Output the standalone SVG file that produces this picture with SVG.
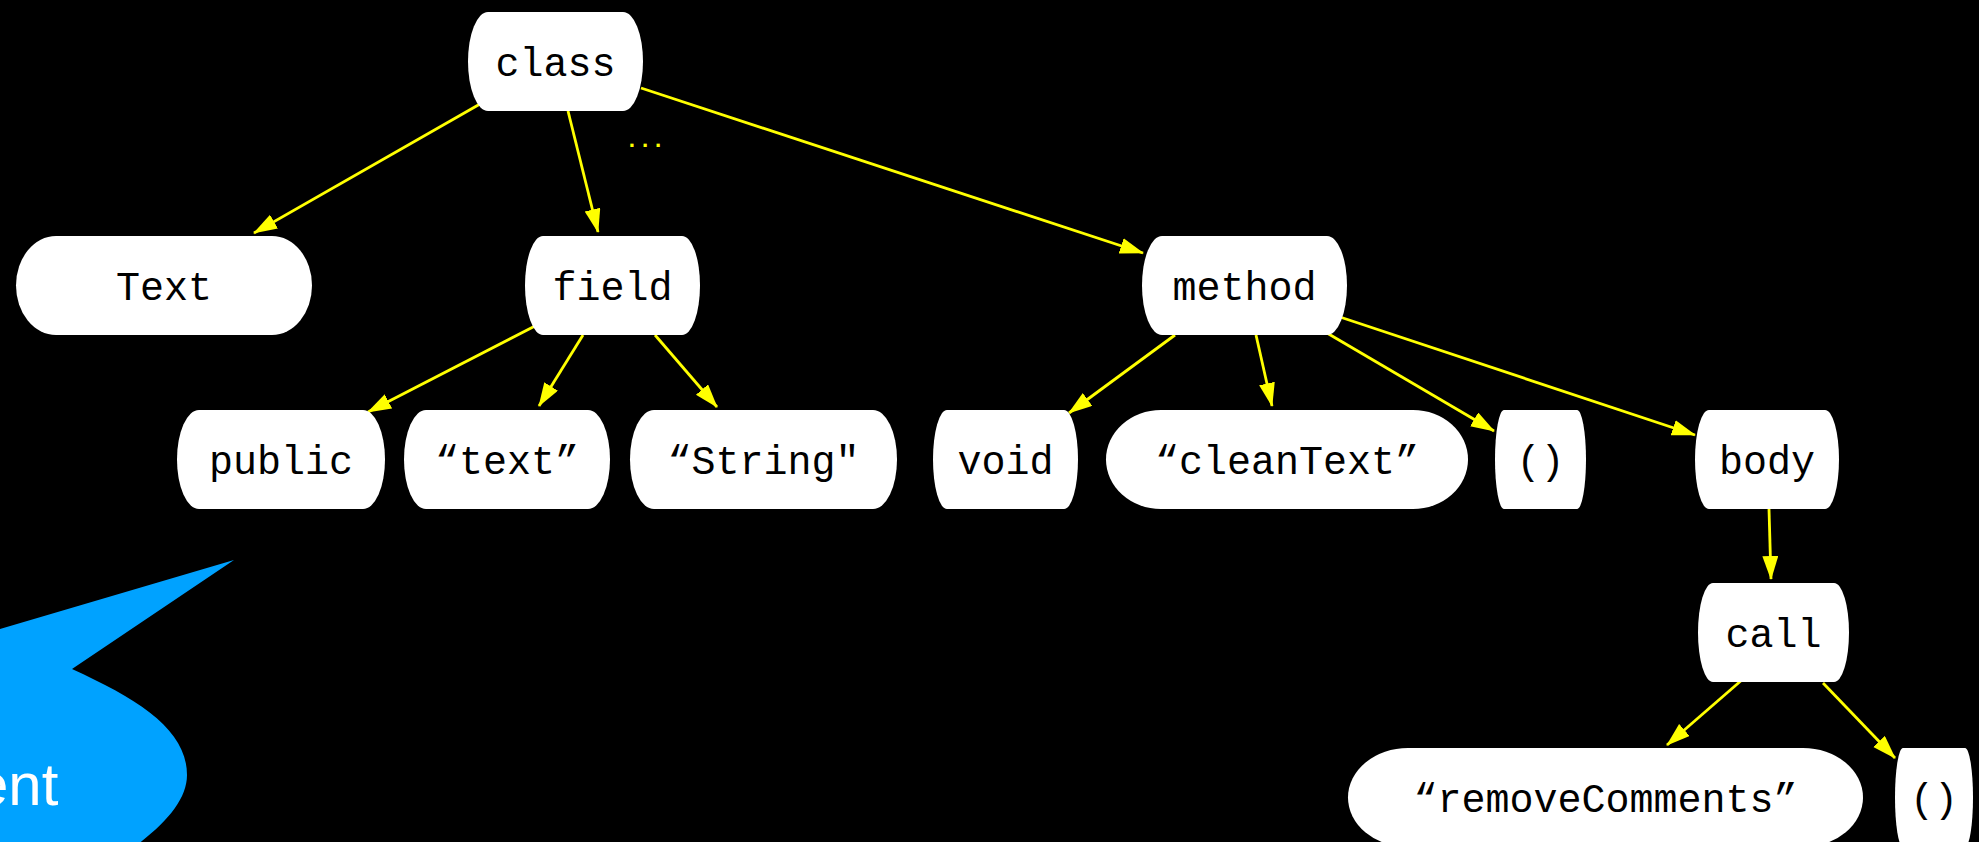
<svg xmlns="http://www.w3.org/2000/svg" width="1979" height="842" viewBox="0 0 1979 842">
<style>
.node rect{fill:#ffffff;}
.node text{font-family:"Liberation Mono","DejaVu Sans Mono",monospace;font-size:40px;fill:#000000;text-anchor:middle;}
.edge{stroke:#ffff00;stroke-width:2.8;fill:none;marker-end:url(#arr);}
</style>
<defs>
<marker id="arr" markerUnits="userSpaceOnUse" markerWidth="26" markerHeight="18" refX="23" refY="8" orient="auto">
<path d="M0,0 L24,8 L0,16 z" fill="#ffff00"/>
</marker>
</defs>
<rect x="0" y="0" width="1979" height="842" fill="#000000"/>

<g id="bubble">
<path d="M-10,632 L234,560 L72,669 C140,700 187,730 187,775 C187,800 165,825 130,850 L-10,850 Z" fill="#00a2ff"/>
<text x="-25" y="805" font-family="Liberation Sans, Arial, sans-serif" font-size="60" fill="#ffffff">ent</text>
</g>

<g id="connectors">
<line class="edge" x1="480" y1="104" x2="254" y2="233"/>
<line class="edge" x1="568" y1="111" x2="598" y2="232"/>
<line class="edge" x1="641" y1="88" x2="1143" y2="253"/>
<line class="edge" x1="535" y1="326" x2="368" y2="412"/>
<line class="edge" x1="583" y1="335" x2="539" y2="406"/>
<line class="edge" x1="655" y1="335" x2="717" y2="407"/>
<line class="edge" x1="1175" y1="335" x2="1069" y2="413"/>
<line class="edge" x1="1256" y1="335" x2="1272" y2="406"/>
<line class="edge" x1="1327" y1="333" x2="1494" y2="431"/>
<line class="edge" x1="1340" y1="317" x2="1695" y2="435"/>
<line class="edge" x1="1769" y1="509" x2="1771" y2="579"/>
<line class="edge" x1="1743" y1="679" x2="1667" y2="745"/>
<line class="edge" x1="1823" y1="683" x2="1895" y2="758"/>
</g>
<text id="ellipsis" x="645" y="147" font-family="Liberation Mono, monospace" font-size="22" font-weight="bold" fill="#ffff00" text-anchor="middle">...</text>

<g id="n-class" class="node"><rect x="468" y="12" width="175" height="99" rx="20" ry="49.5"/><text x="555.5" y="75.5">class</text></g>
<g id="n-Text" class="node"><rect x="16" y="236" width="296" height="99" rx="40" ry="49.5"/><text x="164" y="299.5">Text</text></g>
<g id="n-field" class="node"><rect x="525" y="236" width="175" height="99" rx="18" ry="49.5"/><text x="612.5" y="299.5">field</text></g>
<g id="n-method" class="node"><rect x="1142" y="236" width="205" height="99" rx="20" ry="49.5"/><text x="1244.5" y="299.5">method</text></g>
<g id="n-public" class="node"><rect x="177" y="410" width="208" height="99" rx="22" ry="49.5"/><text x="281" y="473.5">public</text></g>
<g id="n-text" class="node"><rect x="404" y="410" width="206" height="99" rx="22" ry="49.5"/><text x="507" y="473.5">“text”</text></g>
<g id="n-String" class="node"><rect x="630" y="410" width="267" height="99" rx="24" ry="49.5"/><text x="763.5" y="473.5">“String"</text></g>
<g id="n-void" class="node"><rect x="933" y="410" width="145" height="99" rx="14" ry="49.5"/><text x="1005.5" y="473.5">void</text></g>
<g id="n-cleanText" class="node"><rect x="1106" y="410" width="362" height="99" rx="55" ry="49.5"/><text x="1287" y="473.5">“cleanText”</text></g>
<g id="n-paren1" class="node"><rect x="1495" y="410" width="91" height="99" rx="9" ry="49.5"/><text x="1540.5" y="473.5">()</text></g>
<g id="n-body" class="node"><rect x="1695" y="410" width="144" height="99" rx="14" ry="49.5"/><text x="1767" y="473.5">body</text></g>
<g id="n-call" class="node"><rect x="1698" y="583" width="151" height="99" rx="15" ry="49.5"/><text x="1773.5" y="646.5">call</text></g>
<g id="n-removeComments" class="node"><rect x="1348" y="748" width="515" height="99" rx="60" ry="49.5"/><text x="1605.5" y="811.5">“removeComments”</text></g>
<g id="n-paren2" class="node"><rect x="1895" y="748" width="78" height="99" rx="8" ry="49.5"/><text x="1934" y="811.5">()</text></g>
</svg>
